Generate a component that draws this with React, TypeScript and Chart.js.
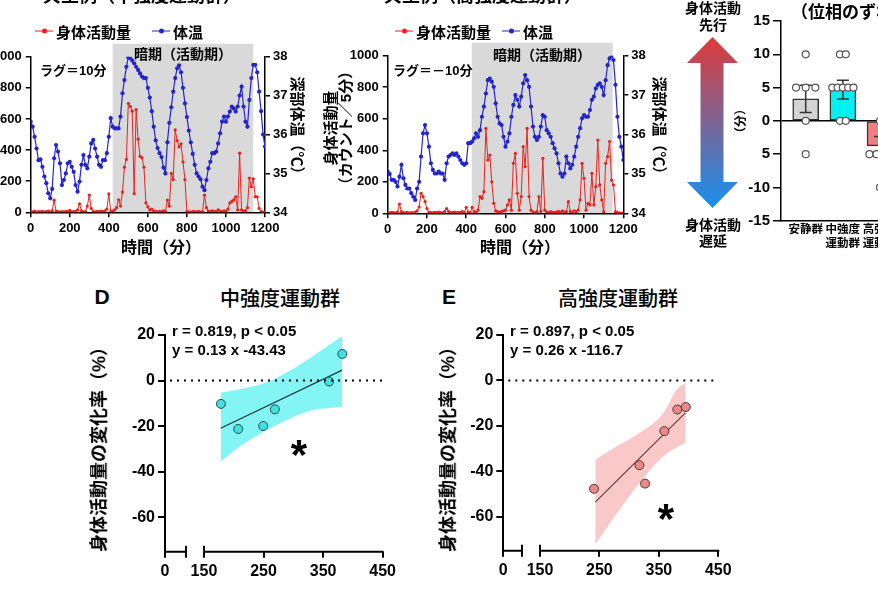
import { useEffect, useRef } from 'react';
import { Chart, registerables } from 'chart.js';

Chart.register(...registerables);
Chart.defaults.font.family = '"Liberation Sans", "Noto Sans CJK JP", sans-serif';
Chart.defaults.color = '#000';

const RED = '#e8231f';
const BLUE = '#2424cc';

// time axis of the two example recordings (one sample every 10 min)
const minutes = Array.from({ length: 121 }, (_, i) => i * 10);
const timeTicks = [0, 200, 400, 600, 800, 1000, 1200];
const countTicks = [0, 200, 400, 600, 800, 1000];
const tempTicks = [34, 35, 36, 37, 38];

const moderateActivity = [
  5, 3, 8, 2, 5, 3, 6, 2, 4, 8,
  3, 10, 78, 8, 4, 2, 5, 3, 6, 4,
  12, 3, 5, 4, 15, 55, 10, 3, 5, 40,
  110, 25, 5, 3, 6, 4, 8, 5, 10, 20,
  118, 5, 8, 15, 30, 80, 40, 130, 290, 340,
  700, 680, 650, 120, 660, 470, 360, 350, 290, 60,
  35, 15, 20, 8, 5, 3, 6, 4, 10, 5,
  79, 40, 250, 210, 530, 460, 420, 440, 325, 210,
  5, 3, 2, 4, 5, 3, 6, 2, 5, 110,
  30, 8, 5, 10, 4, 6, 15, 8, 5, 10,
  6, 20, 60, 70, 80, 100, 15, 380, 15, 8,
  10, 30, 220, 165, 215, 100, 100, 25, 5, 2,
  0,
];
const moderateTemp = [
  36.33, 36.2, 35.94, 35.64, 35.34, 35.36, 35.17, 34.92, 34.75, 34.49,
  34.36, 34.6, 35.39, 35.73, 35.56, 35.26, 34.7, 34.83, 35.0, 35.26,
  35.3, 35.17, 35.04, 34.7, 34.53, 34.79, 35.22, 35.47, 35.22, 35.13,
  35.43, 35.77, 35.86, 35.64, 35.43, 35.22, 35.17, 35.34, 35.34, 35.52,
  35.94, 36.42, 36.2, 36.16, 36.16, 36.16, 36.46, 37.06, 37.4, 37.74,
  37.98, 37.96, 37.9, 37.83, 37.74, 37.66, 37.57, 37.49, 37.45, 37.45,
  37.2, 36.95, 36.6, 36.2, 35.85, 35.65, 35.52, 35.42, 35.15, 35.0,
  35.8, 36.3, 36.7, 37.1, 37.45, 37.7, 37.78, 37.6, 37.2, 36.8,
  36.45, 36.1, 35.8, 35.5, 35.22, 35.0, 34.92, 34.85, 34.66, 34.57,
  34.83, 35.13, 35.3, 35.52, 35.52, 35.56, 35.77, 36.03, 36.33, 36.46,
  36.33, 36.46, 36.59, 36.72, 36.67, 36.59, 36.72, 37.0, 37.23, 36.72,
  36.33, 36.2, 36.89, 37.45, 37.79, 37.79, 37.6, 37.1, 36.6, 36.0,
  35.69,
];
const highActivity = [
  5, 3, 6, 4, 2, 8, 59, 10, 4, 3,
  6, 2, 5, 3, 8, 15, 40, 127, 106, 74,
  30, 8, 5, 3, 6, 4, 8, 5, 3, 10,
  30, 12, 5, 4, 8, 3, 6, 4, 10, 5,
  38, 8, 5, 38, 10, 6, 20, 106, 95, 137,
  539, 338, 370, 200, 63, 15, 10, 8, 12, 15,
  20, 53, 85, 20, 317, 380, 127, 20, 106, 423,
  296, 539, 106, 20, 8, 5, 10, 106, 12, 349,
  20, 8, 5, 10, 6, 4, 8, 12, 6, 15,
  8, 10, 74, 12, 8, 15, 10, 20, 85, 317,
  222, 20, 63, 53, 254, 53, 169, 465, 180, 85,
  10, 317, 359, 455, 211, 180, 10, 5, 3, 2,
  0,
];
const highTemp = [
  35.06, 35.0, 34.85, 34.85, 34.8, 34.68, 34.93, 35.23, 34.89, 34.72,
  34.63, 34.63, 34.51, 34.42, 34.34, 34.63, 34.8, 35.44, 36.03, 36.24,
  36.03, 35.69, 35.27, 35.1, 35.01, 35.01, 35.06, 35.01, 35.01, 34.85,
  35.27, 35.44, 35.48, 35.52, 35.48, 35.52, 35.44, 35.35, 35.27, 35.23,
  35.27, 35.78, 35.78, 35.82, 35.9, 36.03, 35.94, 36.11, 36.45, 36.71,
  37.04, 37.38, 37.42, 37.34, 37.21, 36.79, 36.45, 36.28, 36.24, 35.94,
  35.69, 35.82, 36.03, 36.45, 36.75, 37.0, 36.88, 36.71, 36.96, 37.3,
  37.51, 37.38, 37.21, 36.71, 36.2, 35.94, 35.86, 35.94, 36.2, 36.49,
  36.45, 36.11, 36.03, 35.94, 35.78, 35.65, 35.52, 35.27, 35.01, 34.93,
  35.01, 35.44, 35.27, 35.14, 35.23, 35.44, 35.69, 35.94, 36.16, 36.41,
  36.49, 36.45, 36.45, 36.62, 36.88, 36.96, 37.17, 37.26, 37.3, 37.21,
  37.0, 37.38, 37.76, 37.93, 38.0, 37.89, 37.26, 36.45, 35.94, 35.69,
  35.35,
];

// lag (phase shift) per group, minutes
const lagGroups = [['安静群'], ['中強度', '運動群'], ['高強度', '運動群']];
const lagMeans = [3.3, 4.7, -3.75];
const lagErrors = [2.05, 1.4, 1.4];
const restLags = [10, 5, 5, 5, 0, -5];
const moderateLags = [10, 10, 5, 5, 5, 5, 5, 0, 0];
const highLags = [-5, -5, -5, -5, -10, 0];
const lagTicks = [-15, -10, -5, 0, 5, 10, 15];
const lagTickLabels = ['-15', '-10', '5', '0', '5', '10', '15'];

// correlation panels
const doseTicks = [150, 250, 350, 450];
const changeTicks = [-60, -40, -20, 0, 20];
const moderateDose = [178.5, 207.5, 249.4, 269, 360, 382.3];
const moderateChange = [-10.2, -21.2, -19.9, -12.6, -0.4, 11.7];
const moderateFitX = [178, 382];
const moderateFitY = [-20.9, 4.6];
const moderateBandX = [178, 210, 250, 290, 330, 382];
const moderateBandHi = [-5.3, -3.8, -1.3, 3.8, 10.3, 19.6];
const moderateBandLo = [-35.5, -28.9, -22.4, -17.1, -13.1, -11.4];
const highDose = [240.9, 317.2, 326.8, 359.3, 381.1, 395.3];
const highChange = [-47.7, -37.3, -45.4, -22.3, -12.8, -11.7];
const highFitX = [243, 395];
const highFitY = [-53.6, -14.2];
const highBandX = [243, 280, 318, 358, 380, 395];
const highBandHi = [-34.8, -28.9, -23.0, -14.2, -4.0, -1.0];
const highBandLo = [-72.2, -58.3, -45.0, -33.3, -29.5, -27.4];

const xy = (xs: number[], ys: number[]) => xs.map((x, i) => ({ x, y: ys[i] }));

const darkPhase = {
  id: 'darkPhase',
  beforeDraw(chart: any, _args: any, opts: any) {
    const { ctx, chartArea, scales } = chart;
    const x0 = scales.x.getPixelForValue(opts.from);
    const x1 = scales.x.getPixelForValue(opts.to);
    ctx.save();
    ctx.fillStyle = '#d9d9d9';
    ctx.fillRect(x0, chartArea.top - opts.rise, x1 - x0, chartArea.bottom - chartArea.top + opts.rise);
    ctx.restore();
  },
};

const brokenAxis = {
  id: 'brokenAxis',
  afterDraw(chart: any, _args: any, opts: any) {
    const { ctx, chartArea, scales } = chart;
    const { left, bottom } = chartArea;
    const resume = scales.x.getPixelForValue(opts.resume);
    const end = scales.x.getPixelForValue(scales.x.max);
    const stop = resume - opts.gap;
    ctx.save();
    ctx.strokeStyle = '#000';
    ctx.lineWidth = 2;
    ctx.beginPath();
    ctx.moveTo(left - 1, bottom);
    ctx.lineTo(stop, bottom);
    ctx.moveTo(stop, bottom - 6);
    ctx.lineTo(stop, bottom + 6);
    ctx.moveTo(resume, bottom - 6);
    ctx.lineTo(resume, bottom);
    ctx.moveTo(resume, bottom);
    ctx.lineTo(end + 1, bottom);
    ctx.stroke();
    const y0 = scales.y.getPixelForValue(0);
    ctx.setLineDash([2, 5]);
    ctx.beginPath();
    ctx.moveTo(left + 5, y0);
    ctx.lineTo(end, y0);
    ctx.stroke();
    ctx.restore();
  },
};

const errorBars = {
  id: 'errorBars',
  afterDatasetDraw(chart: any, args: any, opts: any) {
    if (args.meta.type !== 'bar') return;
    const { ctx, scales } = chart;
    ctx.save();
    ctx.strokeStyle = '#333';
    ctx.lineWidth = 1.5;
    opts.means.forEach((m: number, i: number) => {
      const px = scales.x.getPixelForValue(i);
      const hi = scales.y.getPixelForValue(m + opts.errors[i]);
      const lo = scales.y.getPixelForValue(m - opts.errors[i]);
      ctx.beginPath();
      ctx.moveTo(px, hi);
      ctx.lineTo(px, lo);
      ctx.moveTo(px - 6, hi);
      ctx.lineTo(px + 6, hi);
      ctx.moveTo(px - 6, lo);
      ctx.lineTo(px + 6, lo);
      ctx.stroke();
    });
    ctx.restore();
  },
};

const CAT_PX = 38.5;

// spread equal values side by side, like a scatter dot plot
function swarm(values: number[], group: number) {
  const counts = new Map<number, number>();
  values.forEach((v) => counts.set(v, (counts.get(v) ?? 0) + 1));
  const seen = new Map<number, number>();
  return values.map((v) => {
    const n = counts.get(v) ?? 1;
    const k = seen.get(v) ?? 0;
    seen.set(v, k + 1);
    const step = n <= 2 ? 6 : Math.min(10, 22 / (n - 1));
    return { x: group + ((k - (n - 1) / 2) * step) / CAT_PX, y: v };
  });
}

function useChart(make: () => any) {
  const ref = useRef<HTMLCanvasElement>(null);
  useEffect(() => {
    const ctx = ref.current?.getContext('2d');
    if (!ctx) return undefined;
    const chart = new Chart(ctx, make());
    return () => chart.destroy();
  }, []);
  return ref;
}

const fix = (w: number) => (s: any) => {
  s.width = w;
};
const fixH = (h: number) => (s: any) => {
  s.height = h;
};
const plain = (v: number) => String(v);

interface Boxes {
  top: number;
  left: number;
  right: number;
  bottom: number;
}

interface SeriesProps {
  left: number;
  top: number;
  width: number;
  height: number;
  activity: number[];
  temp: number[];
  dark: number[];
  boxes: Boxes;
}

function TimeSeries({ left, top, width, height, activity, temp, dark, boxes }: SeriesProps) {
  const ref = useChart(() => {
    const tick = { color: '#000', font: { size: 13, weight: 'bold' }, padding: 3, callback: plain };
    const grid = { drawOnChartArea: false, tickLength: 5, color: '#000', lineWidth: 1.5 };
    const border = { color: '#000', width: 1.5 };
    return {
      type: 'line',
      data: {
        datasets: [
          {
            label: '身体活動量',
            data: xy(minutes, activity),
            yAxisID: 'y',
            borderColor: RED,
            backgroundColor: RED,
            borderWidth: 1,
            pointRadius: 1.6,
            pointBorderWidth: 0,
          },
          {
            label: '体温',
            data: xy(minutes, temp),
            yAxisID: 'y2',
            borderColor: BLUE,
            backgroundColor: BLUE,
            borderWidth: 1.2,
            pointRadius: 2.1,
            pointBorderWidth: 0,
          },
        ],
      },
      options: {
        responsive: false,
        animation: false,
        layout: { padding: { top: boxes.top, left: 0, right: 0, bottom: 0 } },
        plugins: {
          legend: { display: false },
          tooltip: { enabled: false },
          darkPhase: { from: dark[0], to: dark[1], rise: 13 },
        },
        scales: {
          x: {
            type: 'linear',
            min: 0,
            max: 1200,
            afterBuildTicks: (s: any) => {
              s.ticks = timeTicks.map((value) => ({ value }));
            },
            ticks: tick,
            grid,
            border,
            afterFit: fixH(boxes.bottom),
          },
          y: {
            position: 'left',
            min: 0,
            max: 1000,
            afterBuildTicks: (s: any) => {
              s.ticks = countTicks.map((value) => ({ value }));
            },
            ticks: { ...tick, padding: 4 },
            grid,
            border,
            afterFit: fix(boxes.left),
          },
          y2: {
            position: 'right',
            min: 34,
            max: 38,
            afterBuildTicks: (s: any) => {
              s.ticks = tempTicks.map((value) => ({ value }));
            },
            ticks: tick,
            grid,
            border,
            afterFit: fix(boxes.right),
          },
        },
      },
      plugins: [darkPhase],
    };
  });
  return <canvas ref={ref} width={width} height={height} style={{ position: 'absolute', left, top }} />;
}

function LagBars() {
  const ref = useChart(() => ({
    type: 'bar',
    data: {
      datasets: [
        {
          type: 'scatter',
          data: [...swarm(restLags, 0), ...swarm(moderateLags, 1), ...swarm(highLags, 2)],
          pointRadius: 3.5,
          backgroundColor: '#fff',
          borderColor: '#555',
          borderWidth: 1.2,
          order: 0,
        },
        {
          type: 'bar',
          data: lagMeans.map((y, x) => ({ x, y })),
          backgroundColor: ['#d4d4d4', '#00f0f4', '#f08080'],
          borderColor: '#333',
          borderWidth: 1.5,
          borderSkipped: false,
          barThickness: 26,
          order: 1,
        },
      ],
    },
    options: {
      responsive: false,
      animation: false,
      layout: { padding: { top: 21, left: 0, right: 0, bottom: 0 } },
      plugins: {
        legend: { display: false },
        tooltip: { enabled: false },
        errorBars: { means: lagMeans, errors: lagErrors },
      },
      scales: {
        x: {
          type: 'linear',
          offset: false,
          min: -0.665,
          max: 3.205,
          afterBuildTicks: (s: any) => {
            s.ticks = lagGroups.map((_, value) => ({ value }));
          },
          ticks: {
            callback: (v: number) => lagGroups[v],
            font: { size: 11.5, weight: 'bold', lineHeight: 1.15 },
            padding: 3,
            maxRotation: 0,
            autoSkip: false,
          },
          grid: { display: false, drawTicks: false },
          border: { color: '#000', width: 1.5 },
          afterFit: fixH(39.3),
        },
        y: {
          min: -15,
          max: 15,
          afterBuildTicks: (s: any) => {
            s.ticks = lagTicks.map((value) => ({ value }));
          },
          ticks: {
            callback: (_v: number, i: number) => lagTickLabels[i],
            font: { size: 15, weight: 'bold' },
            padding: 3,
          },
          grid: {
            color: (c: any) => (c.tick && c.tick.value === 0 ? '#000' : 'rgba(0,0,0,0)'),
            tickColor: '#000',
            lineWidth: 1.5,
            tickLength: 8,
          },
          border: { color: '#000', width: 1.5 },
          afterFit: fix(51),
        },
      },
    },
    plugins: [errorBars],
  }));
  return <canvas ref={ref} width={200} height={260} style={{ position: 'absolute', left: 730, top: 0 }} />;
}

interface CorrProps {
  left: number;
  top: number;
  boxes: Boxes;
  xMin: number;
  dose: number[];
  change: number[];
  fitX: number[];
  fitY: number[];
  bandX: number[];
  bandHi: number[];
  bandLo: number[];
  dot: string;
  edge: string;
  band: string;
  line: string;
}

function Correlation(p: CorrProps) {
  const ref = useChart(() => ({
    type: 'scatter',
    data: {
      datasets: [
        {
          type: 'scatter',
          data: xy(p.dose, p.change),
          pointRadius: 4.5,
          backgroundColor: p.dot,
          borderColor: p.edge,
          borderWidth: 1,
          order: 0,
        },
        {
          type: 'line',
          data: xy(p.fitX, p.fitY),
          borderColor: p.line,
          borderWidth: 1.2,
          pointRadius: 0,
          order: 1,
        },
        {
          type: 'line',
          data: xy(p.bandX, p.bandHi),
          fill: '+1',
          backgroundColor: p.band,
          borderColor: 'rgba(0,0,0,0)',
          borderWidth: 0,
          pointRadius: 0,
          cubicInterpolationMode: 'monotone',
          order: 2,
        },
        {
          type: 'line',
          data: xy(p.bandX, p.bandLo),
          fill: false,
          borderColor: 'rgba(0,0,0,0)',
          borderWidth: 0,
          pointRadius: 0,
          cubicInterpolationMode: 'monotone',
          order: 3,
        },
      ],
    },
    options: {
      responsive: false,
      animation: false,
      layout: { padding: { top: p.boxes.top, left: 0, right: p.boxes.right, bottom: 0 } },
      plugins: {
        legend: { display: false },
        tooltip: { enabled: false },
        brokenAxis: { resume: doseTicks[0], gap: 18 },
      },
      scales: {
        x: {
          type: 'linear',
          min: p.xMin,
          max: 450,
          afterBuildTicks: (s: any) => {
            s.ticks = [p.xMin, ...doseTicks].map((value) => ({ value }));
          },
          ticks: {
            callback: (v: number, i: number) => (i === 0 ? '0' : String(v)),
            font: { size: 16, weight: 'bold' },
            padding: 4,
            maxRotation: 0,
            autoSkip: false,
          },
          grid: { drawOnChartArea: false, tickLength: 6, color: '#000', lineWidth: 2 },
          border: { display: false },
          afterFit: fixH(p.boxes.bottom),
        },
        y: {
          min: -75,
          max: 20,
          afterBuildTicks: (s: any) => {
            s.ticks = changeTicks.map((value) => ({ value }));
          },
          ticks: { font: { size: 16, weight: 'bold' }, padding: 3 },
          grid: { drawOnChartArea: false, tickLength: 7, color: '#000', lineWidth: 2 },
          border: { color: '#000', width: 2 },
          afterFit: fix(p.boxes.left),
        },
      },
    },
    plugins: [brokenAxis],
  }));
  return <canvas ref={ref} width={300} height={270} style={{ position: 'absolute', left: p.left, top: p.top }} />;
}

function Text({ x, y, size, children, weight = 'bold', align = 'center', rotate = 0, lineHeight = 1.2 }: any) {
  const shift = align === 'left' ? '0' : align === 'right' ? '-100%' : '-50%';
  return (
    <div
      style={{
        position: 'absolute',
        left: x,
        top: y,
        transform: `translate(${shift}, -50%) rotate(${rotate}deg)`,
        fontSize: size,
        fontWeight: weight,
        lineHeight,
        whiteSpace: 'pre',
        textAlign: 'center',
        color: '#000',
      }}
    >
      {children}
    </div>
  );
}

function LegendKey({ x, y, color, label }: { x: number; y: number; color: string; label: string }) {
  return (
    <div
      style={{
        position: 'absolute',
        left: x,
        top: y,
        transform: 'translateY(-50%)',
        display: 'flex',
        alignItems: 'center',
        gap: 3,
        fontSize: 15,
        fontWeight: 'bold',
        whiteSpace: 'nowrap',
      }}
    >
      <span style={{ position: 'relative', display: 'inline-block', width: 18, height: 1.5, background: color }}>
        <span
          style={{
            position: 'absolute',
            left: 6.5,
            top: -2,
            width: 5,
            height: 5,
            borderRadius: '50%',
            background: color,
          }}
        />
      </span>
      <span>{label}</span>
    </div>
  );
}

function Arrow() {
  return (
    <svg width={54} height={174} style={{ position: 'absolute', left: 686, top: 36 }}>
      <defs>
        <linearGradient id='leadLag' x1='0' y1='0' x2='0' y2='1'>
          <stop offset='0' stopColor='#e0393a' />
          <stop offset='1' stopColor='#1890f0' />
        </linearGradient>
      </defs>
      <polygon
        points='26.5,1 52,27 37.5,27 37.5,146 52,146 26.5,172 1,146 14.5,146 14.5,27 1,27'
        fill='url(#leadLag)'
      />
    </svg>
  );
}

export default function App() {
  return (
    <div
      style={{
        position: 'absolute',
        left: 0,
        top: 0,
        width: 878,
        height: 594,
        overflow: 'hidden',
        background: '#fff',
        fontFamily: '"Liberation Sans", "Noto Sans CJK JP", sans-serif',
      }}
    >
      <TimeSeries
        left={-20}
        top={0}
        width={340}
        height={240}
        activity={moderateActivity}
        temp={moderateTemp}
        dark={[420, 1140]}
        boxes={{ top: 56.7, left: 50.7, right: 55, bottom: 27.7 }}
      />
      <TimeSeries
        left={340}
        top={0}
        width={330}
        height={240}
        activity={highActivity}
        temp={highTemp}
        dark={[428, 1146]}
        boxes={{ top: 55.7, left: 47.7, right: 46.7, bottom: 26.7 }}
      />
      <LagBars />
      <Arrow />
      <Correlation
        left={100}
        top={320}
        boxes={{ top: 15, left: 65, right: 17, bottom: 38.3 }}
        xMin={84.6}
        dose={moderateDose}
        change={moderateChange}
        fitX={moderateFitX}
        fitY={moderateFitY}
        bandX={moderateBandX}
        bandHi={moderateBandHi}
        bandLo={moderateBandLo}
        dot='#3fe0e0'
        edge='#2a4a4a'
        band='#84f5f5'
        line='#1f3a3a'
      />
      <Correlation
        left={440}
        top={320}
        boxes={{ top: 15, left: 63.3, right: 21.7, bottom: 39.2 }}
        xMin={88.3}
        dose={highDose}
        change={highChange}
        fitX={highFitX}
        fitY={highFitY}
        bandX={highBandX}
        bandHi={highBandHi}
        bandLo={highBandLo}
        dot='#e88a8a'
        edge='#5a3030'
        band='#f9c8c8'
        line='#6b3a3a'
      />

      {/* top row: example recordings */}
      <Text x={142} y={-3} size={18}>典型例（中強度運動群）</Text>
      <Text x={483} y={-3} size={18}>典型例（高強度運動群）</Text>
      <LegendKey x={35} y={31} color={RED} label='身体活動量' />
      <LegendKey x={152} y={31} color={BLUE} label='体温' />
      <LegendKey x={395} y={31} color={RED} label='身体活動量' />
      <LegendKey x={502} y={31} color={BLUE} label='体温' />
      <Text x={183} y={54} size={14}>暗期（活動期）</Text>
      <Text x={542} y={55} size={14}>暗期（活動期）</Text>
      <Text x={40} y={71} size={13} align='left'>ラグ＝10分</Text>
      <Text x={393} y={71} size={13} align='left'>ラグ＝－10分</Text>
      <Text x={161} y={248} size={16}>時間（分）</Text>
      <Text x={520} y={248} size={16}>時間（分）</Text>
      <Text x={297} y={129} size={15} rotate={90}>深部体温（℃）</Text>
      <Text x={659} y={129} size={15} rotate={90}>深部体温（℃）</Text>
      <Text x={338} y={128} size={15} rotate={-90} lineHeight={1}>{'身体活動量\n（カウント／5分）'}</Text>

      {/* lag panel */}
      <Text x={713} y={8} size={14}>身体活動</Text>
      <Text x={713} y={25} size={14}>先行</Text>
      <Text x={713} y={225} size={14}>身体活動</Text>
      <Text x={713} y={241} size={14}>遅延</Text>
      <Text x={853} y={-9} size={17}>ラグ</Text>
      <Text x={791} y={13} size={17} align='left'>（位相のずれ）</Text>
      <Text x={741} y={121} size={12} rotate={-90}>（分）</Text>

      {/* correlation panels */}
      <Text x={102} y={297} size={21}>D</Text>
      <Text x={280} y={299} size={20} weight={500}>中強度運動群</Text>
      <Text x={172} y={331} size={15} align='left'>r = 0.819, p &lt; 0.05</Text>
      <Text x={172} y={350} size={15} align='left'>y = 0.13 x -43.43</Text>
      <Text x={299} y={455} size={42} lineHeight={1}>*</Text>
      <Text x={100} y={445} size={18} rotate={-90}>身体活動量の変化率（%）</Text>

      <Text x={449} y={297} size={21}>E</Text>
      <Text x={618} y={299} size={20} weight={500}>高強度運動群</Text>
      <Text x={510} y={331} size={15} align='left'>r = 0.897, p &lt; 0.05</Text>
      <Text x={510} y={350} size={15} align='left'>y = 0.26 x -116.7</Text>
      <Text x={666} y={519} size={42} lineHeight={1}>*</Text>
      <Text x={449} y={445} size={18} rotate={-90}>身体活動量の変化率（%）</Text>
    </div>
  );
}
